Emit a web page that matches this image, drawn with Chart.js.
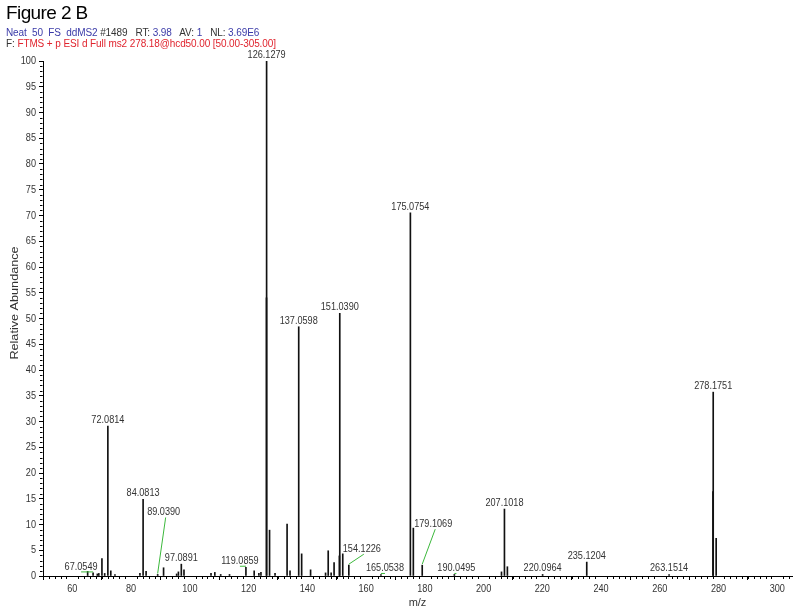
<!DOCTYPE html>
<html>
<head>
<meta charset="utf-8">
<script src="https://cdn.jsdelivr.net/npm/chart.js@4/dist/chart.umd.min.js"></script>
<style>
html,body{margin:0;padding:0;background:#fff;}
#wrap{position:relative;width:800px;height:613px;overflow:hidden;}
#c{position:absolute;left:0;top:0;}
.hd{position:absolute;left:6px;font-family:"Liberation Sans",Arial,sans-serif;white-space:pre;color:#333;}
#fig{top:2px;font-size:19px;letter-spacing:-0.6px;color:#000;}
#l2{top:27px;font-size:10px;letter-spacing:-0.1px;}
#l3{top:38px;font-size:10px;letter-spacing:-0.1px;}
.b{color:#3a3aa8;}
.r{color:#e0242e;}
</style>
</head>
<body>
<div id="wrap">
<canvas id="c" width="800" height="613"></canvas>
<div class="hd" id="fig">Figure 2 B</div>
<div class="hd" id="l2"><span class="b">Neat  50  FS  ddMS2</span> #1489   RT: <span class="b">3.98</span>   AV: <span class="b">1</span>   NL: <span class="b">3.69E6</span></div>
<div class="hd" id="l3">F: <span class="r">FTMS + p ESI d Full ms2 278.18@hcd50.00 [50.00-305.00]</span></div>
</div>
<script>
// centroid peaks (m/z) and relative abundance (%)
const peakMz = [
  65.2, 67.0549, 68.5, 69.0, 70.065, 71.0, 72.0814, 73.08, 74.5,
  83.0, 84.0813, 85.1, 89.0390, 91.05, 95.5, 96.1, 97.0891, 98.0,
  107.2, 108.5, 110.5, 113.5, 119.0859, 121.9, 123.5, 124.2,
  126.0913, 126.1279, 127.13, 129.0, 133.1, 134.1, 137.0598, 138.06,
  141.1, 146.2, 147.1, 148.1, 149.1, 150.9, 151.0390, 152.05, 154.1226,
  165.0538, 175.0754, 176.08, 179.1069, 190.0495, 206.1, 207.1018, 208.1,
  220.0964, 235.1204, 263.1514, 278.095, 278.1751, 279.18
];
const peakInt = [
  0.9, 0.6, 0.4, 0.5, 3.4, 0.5, 29.1, 1.0, 0.3,
  0.5, 14.9, 0.9, 0.3, 1.6, 0.4, 0.8, 2.3, 1.2,
  0.5, 0.7, 0.3, 0.3, 1.7, 1.0, 0.5, 0.7,
  54.0, 100, 8.9, 0.5, 10.1, 1.0, 48.4, 4.3,
  1.2, 0.6, 4.9, 0.6, 2.6, 3.9, 51.0, 4.3, 2.1,
  0.3, 70.5, 9.3, 2.1, 0.3, 0.8, 13.0, 1.8,
  0.3, 2.7, 0.3, 16.4, 35.7, 7.3
];
const peakLabels = [
  "67.0549", "72.0814", "84.0813", "89.0390", "97.0891", "119.0859",
  "126.1279", "137.0598", "151.0390", "154.1226", "165.0538", "175.0754",
  "179.1069", "190.0495", "207.1018", "220.0964", "235.1204", "263.1514", "278.1751"
];
const xTicks = [60, 80, 100, 120, 140, 160, 180, 200, 220, 240, 260, 280, 300];
const yTicks = [0, 5, 10, 15, 20, 25, 30, 35, 40, 45, 50, 55, 60, 65, 70, 75, 80, 85, 90, 95, 100];
const xTitle = "m/z";
const yTitle = "Relative Abundance";

// labels moved off their peak, with a green leader line (px shift)
const labelShift = {
  "67.0549": [-12, 0],
  "89.0390": [6, -56],
  "119.0859": [-6, 0],
  "154.1226": [13, -10],
  "165.0538": [4, 0],
  "179.1069": [11, -35],
  "190.0495": [2, 0]
};

const FONT = "'Liberation Sans', Arial, sans-serif";
const SQUEEZE = 0.83; // the original numbers use a narrow face

function drawText(c, t, x, y, align, base, sx, rot) {
  c.save();
  c.translate(x, y);
  if (rot) c.rotate(rot);
  c.scale(sx, 1);
  c.textAlign = align;
  c.textBaseline = base;
  c.fillText(t, 0, 0);
  c.restore();
}

const axisText = {
  id: "axisText",
  afterDraw(chart) {
    const c = chart.ctx, xs = chart.scales.x, ys = chart.scales.y;
    c.save();
    c.strokeStyle = "#000";
    c.lineWidth = 1;
    c.beginPath();
    const ax = Math.round(xs.left) - 0.5;
    for (let v = 1; v < 100; v++) {
      if (v % 5 === 0) continue;
      const py = Math.round(ys.getPixelForValue(v)) + 0.5;
      c.moveTo(ax, py); c.lineTo(ax - 2.5, py);
    }
    const ay = Math.round(ys.bottom) + 0.5;
    for (let v = 50; v <= 305; v += 2) {
      if (xTicks.includes(v)) continue;
      const px = Math.round(xs.getPixelForValue(v)) + 0.5;
      c.moveTo(px, ay); c.lineTo(px, ay + 2.5);
    }
    c.stroke();

    c.fillStyle = "#333";
    c.font = "11px " + FONT;
    yTicks.forEach(v => drawText(c, String(v), xs.left - 7, ys.getPixelForValue(v), "right", "middle", SQUEEZE));
    xTicks.forEach(v => drawText(c, String(v), xs.getPixelForValue(v), ys.bottom + 13, "center", "middle", SQUEEZE));
    drawText(c, xTitle, (xs.left + xs.right) / 2, 603, "center", "middle", 1);
    drawText(c, yTitle, 15, 303, "center", "middle", 1.15, -Math.PI / 2);
    c.restore();
  }
};

const peakText = {
  id: "peakText",
  afterDatasetsDraw(chart) {
    const c = chart.ctx, xs = chart.scales.x, ys = chart.scales.y;
    c.save();
    c.font = "11px " + FONT;
    peakLabels.forEach(t => {
      const i = peakMz.indexOf(parseFloat(t));
      if (i < 0) return;
      const px = xs.getPixelForValue(peakMz[i]);
      const py = ys.getPixelForValue(peakInt[i]);
      const sh = labelShift[t] || [0, 0];
      const tx = px + sh[0], ty = py - 3 + sh[1];
      c.fillStyle = "#333";
      drawText(c, t, tx, ty, "center", "alphabetic", SQUEEZE);
      if (labelShift[t]) {
        c.strokeStyle = "#3cb83c";
        c.lineWidth = 1;
        c.beginPath();
        c.moveTo(tx + (sh[1] < 0 ? 2 : 0), ty + 2);
        c.lineTo(px, py - 1);
        c.stroke();
      }
    });
    c.restore();
  }
};

new Chart(document.getElementById("c"), {
  type: "bar",
  data: {
    datasets: [{
      data: peakMz.map((m, i) => ({ x: m, y: peakInt[i] })),
      backgroundColor: "#111",
      barThickness: 1,
      borderWidth: 0
    }]
  },
  options: {
    responsive: false,
    animation: false,
    events: [],
    layout: { padding: { top: 61, right: 8, left: 0, bottom: 0 } },
    plugins: { legend: { display: false }, tooltip: { enabled: false } },
    scales: {
      x: {
        type: "linear",
        min: 50, max: 305,
        offset: false,
        afterFit: s => { s.height = 37; },
        afterBuildTicks: s => { s.ticks = xTicks.map(v => ({ value: v })); },
        grid: { display: true, drawOnChartArea: false, drawTicks: true, tickLength: 4, color: "#000" },
        border: { display: true, color: "#000", width: 1 },
        ticks: { display: false }
      },
      y: {
        min: 0, max: 100,
        afterFit: s => { s.width = 43; },
        afterBuildTicks: s => { s.ticks = yTicks.map(v => ({ value: v })); },
        grid: { display: true, drawOnChartArea: false, drawTicks: true, tickLength: 4, color: "#000" },
        border: { display: true, color: "#000", width: 1 },
        ticks: { display: false }
      }
    }
  },
  plugins: [axisText, peakText]
});
</script>
</body>
</html>
